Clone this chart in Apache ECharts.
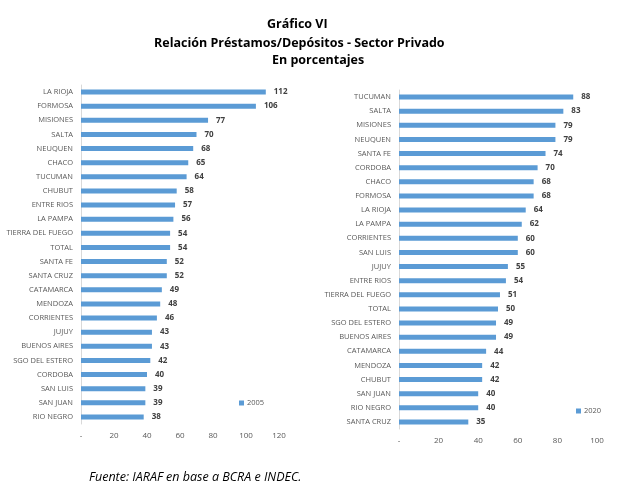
<!DOCTYPE html>
<html><head><meta charset="utf-8">
<script src="https://cdn.jsdelivr.net/npm/echarts@6/dist/echarts.min.js"></script>
<style>html,body{margin:0;padding:0;background:#fff}#c{width:618px;height:501px}</style>
</head><body><div id="c"></div>
<script>
const cats2005 = ['LA RIOJA','FORMOSA','MISIONES','SALTA','NEUQUEN','CHACO','TUCUMAN','CHUBUT','ENTRE RIOS','LA PAMPA','TIERRA DEL FUEGO','TOTAL','SANTA FE','SANTA CRUZ','CATAMARCA','MENDOZA','CORRIENTES','JUJUY','BUENOS AIRES','SGO DEL ESTERO','CORDOBA','SAN LUIS','SAN JUAN','RIO NEGRO'];
const vals2005 = [112,106,77,70,68,65,64,58,57,56,54,54,52,52,49,48,46,43,43,42,40,39,39,38];
const cats2020 = ['TUCUMAN','SALTA','MISIONES','NEUQUEN','SANTA FE','CORDOBA','CHACO','FORMOSA','LA RIOJA','LA PAMPA','CORRIENTES','SAN LUIS','JUJUY','ENTRE RIOS','TIERRA DEL FUEGO','TOTAL','SGO DEL ESTERO','BUENOS AIRES','CATAMARCA','MENDOZA','CHUBUT','SAN JUAN','RIO NEGRO','SANTA CRUZ'];
const vals2020 = [88,83,79,79,74,70,68,68,64,62,60,60,55,54,51,50,49,49,44,42,42,40,40,35];
const ticks2005 = [0,20,40,60,80,100,120];
const ticks2020 = [0,20,40,60,80,100];

const FONT = 'Open Sans';
const BLUE = '#5B9BD5';
const GRAY = '#595959';
const ch = echarts.init(document.getElementById('c'));
function xAx(gi, ticks){
  return {gridIndex:gi,type:'value',min:ticks[0],max:ticks[ticks.length-1],interval:ticks[1]-ticks[0],
    axisLine:{show:false},axisTick:{show:false},splitLine:{show:false},
    axisLabel:{color:GRAY,fontSize:8,fontFamily:FONT,margin:8,formatter:v=>v===0?'-':String(v)}};
}
function yAx(gi, cats){
  return {gridIndex:gi,type:'category',data:cats,inverse:true,
    axisLine:{show:true,lineStyle:{color:'#D9D9D9',width:1}},axisTick:{show:false},
    axisLabel:{color:GRAY,fontSize:7.5,fontFamily:FONT,margin:8}};
}
function ser(name, gi, vals){
  return {name:name,type:'bar',xAxisIndex:gi,yAxisIndex:gi,data:vals,barWidth:5,
    itemStyle:{color:BLUE},
    label:{show:true,position:'right',distance:8,color:'#404040',fontSize:8,fontWeight:'bold',fontFamily:FONT}};
}
ch.setOption({
  animation:false,
  grid:[{left:81,top:85,width:198,height:339},{left:399,top:90,width:198,height:339}],
  xAxis:[xAx(0,ticks2005),xAx(1,ticks2020)],
  yAxis:[yAx(0,cats2005),yAx(1,cats2020)],
  legend:[
    {data:['2005'],left:234,top:394,icon:'rect',itemWidth:5,itemHeight:5,itemGap:4,
     textStyle:{color:GRAY,fontSize:7.5,fontFamily:FONT,padding:[0,0,0,-2]}},
    {data:['2020'],left:571,top:402,icon:'rect',itemWidth:5,itemHeight:5,itemGap:4,
     textStyle:{color:GRAY,fontSize:7.5,fontFamily:FONT,padding:[0,0,0,-2]}}
  ],
  series:[ser('2005',0,vals2005),ser('2020',1,vals2020)],
  graphic:[
    {type:'text',left:267,top:18,style:{text:'Gráfico VI',font:'bold 12.5px "Open Sans"',fill:'#000'}},
    {type:'text',left:154,top:37,style:{text:'Relación Préstamos/Depósitos - Sector Privado',font:'bold 12.5px "Open Sans"',fill:'#000'}},
    {type:'text',left:272,top:54,style:{text:'En porcentajes',font:'bold 12.5px "Open Sans"',fill:'#000'}},
    {type:'text',left:89,top:471,style:{text:'Fuente: IARAF en base a BCRA e INDEC.',font:'italic 12.5px "Open Sans"',fill:'#000'}}
  ]
});
</script></body></html>
